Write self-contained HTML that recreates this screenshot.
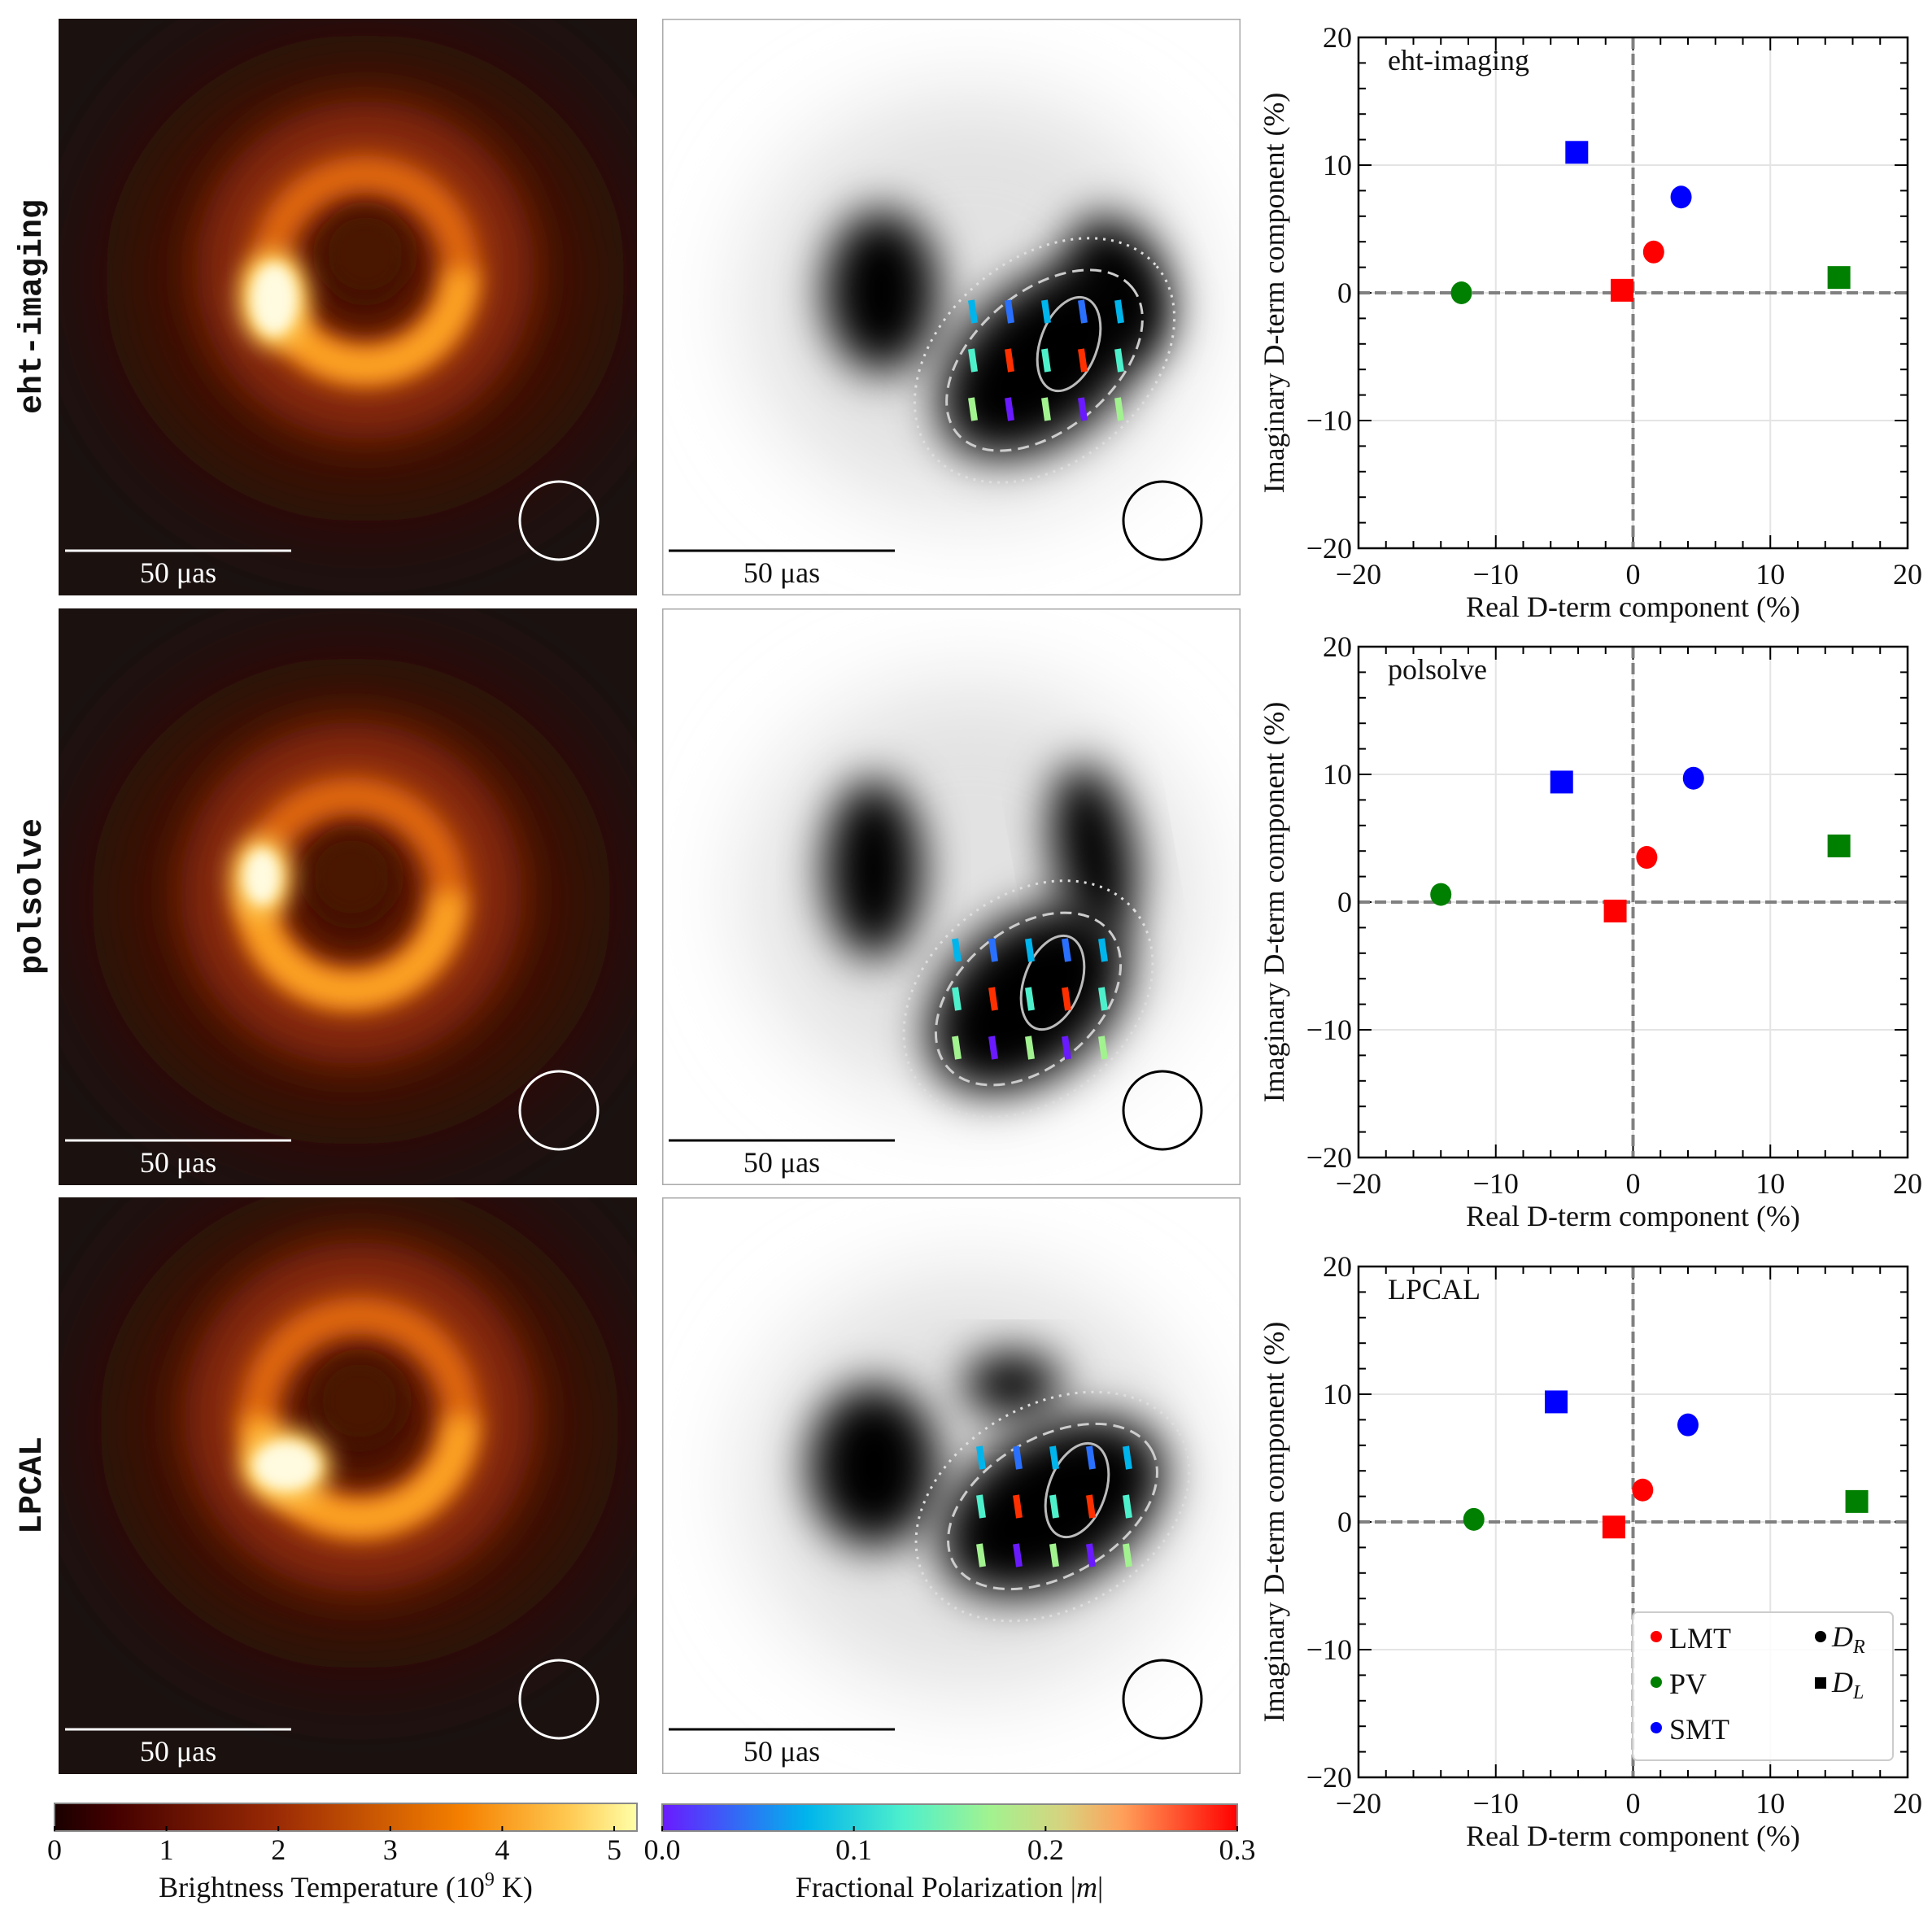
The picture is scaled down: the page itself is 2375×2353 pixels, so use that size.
<!DOCTYPE html>
<html><head><meta charset="utf-8"><style>
html,body{margin:0;padding:0;background:#fff}
svg{display:block}
text{font-family:"Liberation Serif",serif;fill:#111}
.mono{font-family:"Liberation Mono",monospace;font-weight:bold}
</style></head><body>
<svg id="fig" width="2375" height="2353" viewBox="0 0 2375 2353" xmlns="http://www.w3.org/2000/svg">
<defs>
<filter id="b60" x="-50%" y="-50%" width="200%" height="200%"><feGaussianBlur stdDeviation="55"/></filter>
<filter id="b30" x="-50%" y="-50%" width="200%" height="200%"><feGaussianBlur stdDeviation="28"/></filter>
<filter id="b15" x="-50%" y="-50%" width="200%" height="200%"><feGaussianBlur stdDeviation="14"/></filter>
<filter id="b8" x="-50%" y="-50%" width="200%" height="200%"><feGaussianBlur stdDeviation="8"/></filter>
<linearGradient id="hot" x1="0" x2="1" y1="0" y2="0">
<stop offset="0" stop-color="#1a0000"/><stop offset="0.1" stop-color="#430000"/><stop offset="0.38" stop-color="#9a2a05"/><stop offset="0.7" stop-color="#f58000"/><stop offset="0.88" stop-color="#ffc850"/><stop offset="1" stop-color="#ffffa8"/>
</linearGradient>
<linearGradient id="rbw" x1="0" x2="1" y1="0" y2="0">
<stop offset="0" stop-color="#6a1aff"/><stop offset="0.25" stop-color="#00b4ec"/><stop offset="0.42" stop-color="#4ef0cc"/><stop offset="0.57" stop-color="#a2f290"/><stop offset="0.7" stop-color="#d8d27e"/><stop offset="0.8" stop-color="#ffa05a"/><stop offset="1" stop-color="#ff0000"/>
</linearGradient>
<clipPath id="pc"><rect x="0" y="0" width="711" height="709"/></clipPath>
</defs>
<g id="panels"></g>
<g id="plots"></g>
<g id="cbars"></g>
</svg>
<script>
// ---------- D-term data ----------
const methods = ["eht-imaging","polsolve","LPCAL"];
const stations = ["LMT","PV","SMT"];
const stationColors = ["#ff0000","#008000","#0000ff"];
const drReal = [[1.5,-12.5,3.5],[1.0,-14.0,4.4],[0.7,-11.6,4.0]];
const drImag = [[3.2,0.0,7.5],[3.5,0.6,9.7],[2.5,0.2,7.6]];
const dlReal = [[-0.8,15.0,-4.1],[-1.3,15.0,-5.2],[-1.4,16.3,-5.6]];
const dlImag = [[0.2,1.2,11.0],[-0.7,4.4,9.4],[-0.4,1.6,9.4]];
const tickVals = [-20,-10,0,10,20];
const tickLabels = ["\u221220","\u221210","0","10","20"];
const hotTicks = [0,1,2,3,4,5];
const polTicks = ["0.0","0.1","0.2","0.3"];

const NS="http://www.w3.org/2000/svg";
function mk(tag,attrs,parent){const e=document.createElementNS(NS,tag);for(const k in attrs)e.setAttribute(k,attrs[k]);if(parent)parent.appendChild(e);return e;}

const rowsY=[23,748,1472];
const panels=document.getElementById('panels');

// ---------- image panels ----------
const ringParams=[
 {hx:377,hy:289,spot:[265,345,28,44],ring:118},
 {hx:360,hy:330,spot:[250,330,22,34],ring:120},
 {hx:370,hy:250,spot:[280,330,40,30],ring:125}];
rowsY.forEach((y,i)=>{
  const g=mk('g',{transform:`translate(72,${y})`,'clip-path':'url(#pc)'},panels);
  
  
  const p=ringParams[i];
  mk('rect',{x:0,y:0,width:711,height:709,fill:'#1b1210'},g);
  mk('ellipse',{cx:p.hx,cy:p.hy+30,rx:320,ry:300,fill:'#3e1006',filter:'url(#b60)'},g);
  mk('circle',{cx:p.hx,cy:p.hy+20,r:p.ring+25,fill:'none',stroke:'#8a2a08','stroke-width':130,filter:'url(#b30)'},g);
  mk('circle',{cx:p.hx,cy:p.hy+20,r:p.ring,fill:'none',stroke:'#e0680e','stroke-width':45,filter:'url(#b15)'},g);
  mk('path',{d:`M ${p.hx-p.ring} ${p.hy+20} A ${p.ring} ${p.ring} 0 0 0 ${p.hx+p.ring} ${p.hy+20}`,fill:'none',stroke:'#ffa828','stroke-width':38,filter:'url(#b15)'},g);
  mk('circle',{cx:p.hx,cy:p.hy,r:55,fill:'#4a1206',filter:'url(#b15)'},g);
  mk('ellipse',{cx:p.spot[0],cy:p.spot[1],rx:p.spot[2]+15,ry:p.spot[3]+15,fill:'#ffd060',filter:'url(#b15)'},g);
  mk('ellipse',{cx:p.spot[0],cy:p.spot[1],rx:p.spot[2],ry:p.spot[3],fill:'#fffbe0',filter:'url(#b8)'},g);
  const beam=mk('circle',{cx:615,cy:617,r:48,fill:'none',stroke:'#fff','stroke-width':3},g);
  
  mk('line',{x1:8,x2:286,y1:654,y2:654,stroke:'#fff','stroke-width':3},g);
  const t=mk('text',{x:147,y:693,'text-anchor':'middle','font-size':36,style:'fill:#fff'},g);
  t.textContent='50 \u03bcas';
  
  const lbl=mk('text',{x:0,y:0,'text-anchor':'middle','font-size':40,class:'mono',transform:`translate(50,${y+354}) rotate(-90)`},panels);
  lbl.textContent=methods[i];
  
});

// ---------- polarization panels ----------
const blobs=[
 [[270,335,70,100,0],[470,420,150,95,-40],[560,330,60,90,-20]],
 [[260,320,60,110,0],[450,480,140,95,-40],[530,300,50,110,-10]],
 [[260,330,80,100,0],[480,380,150,95,-30],[430,230,60,40,0]]];
const tickColors=["#00b4ec","#4ef0cc","#a2f290","#2a70ff","#ff3000","#6a1aff"];
rowsY.forEach((y,i)=>{
  const g=mk('g',{transform:`translate(814,${y})`,'clip-path':'url(#pc)'},panels);
  
  
  mk('rect',{x:0,y:0,width:711,height:709,fill:'#fff'},g);
  mk('ellipse',{cx:380,cy:350,rx:280,ry:260,fill:'#e2e2e2',filter:'url(#b60)'},g);
  blobs[i].forEach(b=>{
    mk('ellipse',{cx:b[0],cy:b[1],rx:b[2],ry:b[3],transform:`rotate(${b[4]} ${b[0]} ${b[1]})`,fill:'#000',filter:'url(#b30)'},g);
  });
  const main=blobs[i][1];
  mk('ellipse',{cx:main[0],cy:main[1],rx:main[2]+30,ry:main[3]+30,transform:`rotate(${main[4]} ${main[0]} ${main[1]})`,fill:'none',stroke:'#ddd','stroke-width':3,'stroke-dasharray':'3 7'},g);
  mk('ellipse',{cx:main[0],cy:main[1],rx:main[2]-10,ry:main[3]-10,transform:`rotate(${main[4]} ${main[0]} ${main[1]})`,fill:'none',stroke:'#ccc','stroke-width':3,'stroke-dasharray':'14 8'},g);
  mk('ellipse',{cx:main[0]+30,cy:main[1]-20,rx:35,ry:60,transform:`rotate(20 ${main[0]+30} ${main[1]-20})`,fill:'none',stroke:'#bbb','stroke-width':3},g);
  let k=0;
  for(let dx=-90;dx<=90;dx+=45){for(let dy=-60;dy<=60;dy+=60){
    const cx=main[0]+dx,cy=main[1]+dy;
    mk('line',{x1:cx,y1:cy-14,x2:cx+4,y2:cy+14,stroke:tickColors[k%tickColors.length],'stroke-width':8},g);k++;
  }}
  mk('rect',{x:0.5,y:0.5,width:710,height:708,fill:'none',stroke:'#aaa','stroke-width':2},g);
  mk('circle',{cx:615,cy:617,r:48,fill:'none',stroke:'#000','stroke-width':3},g);
  mk('line',{x1:8,x2:286,y1:654,y2:654,stroke:'#000','stroke-width':3},g);
  const t=mk('text',{x:147,y:693,'text-anchor':'middle','font-size':36},g);
  t.textContent='50 \u03bcas';
  
});

// ---------- D-term plots ----------
const plots=document.getElementById('plots');
const PX0=1670,PX1=2345,plotTops=[46,795,1557],PH=628;
methods.forEach((m,i)=>{
  const top=plotTops[i];
  const sx=v=>PX0+(v+20)/40*(PX1-PX0);
  const sy=v=>top+(20-v)/40*PH;
  const g=mk('g',{},plots);
  
  tickVals.forEach(v=>{
    mk('line',{x1:sx(v),x2:sx(v),y1:top,y2:top+PH,stroke:'#e4e4e4','stroke-width':2},g);
    mk('line',{x1:PX0,x2:PX1,y1:sy(v),y2:sy(v),stroke:'#e4e4e4','stroke-width':2},g);
  });
  for(let v=-20;v<=20;v+=2){
    const L=(v%10===0)?16:9;
    mk('line',{x1:sx(v),x2:sx(v),y1:top+PH,y2:top+PH-L,stroke:'#000','stroke-width':2},g);
    mk('line',{x1:sx(v),x2:sx(v),y1:top,y2:top+L,stroke:'#000','stroke-width':2},g);
    mk('line',{x1:PX0,x2:PX0+L,y1:sy(v),y2:sy(v),stroke:'#000','stroke-width':2},g);
    mk('line',{x1:PX1,x2:PX1-L,y1:sy(v),y2:sy(v),stroke:'#000','stroke-width':2},g);
  }
  mk('line',{x1:sx(0),x2:sx(0),y1:top,y2:top+PH,stroke:'#808080','stroke-width':4,'stroke-dasharray':'14 6'},g);
  mk('line',{x1:PX0,x2:PX1,y1:sy(0),y2:sy(0),stroke:'#808080','stroke-width':4,'stroke-dasharray':'14 6'},g);
  mk('rect',{x:PX0,y:top,width:PX1-PX0,height:PH,fill:'none',stroke:'#000','stroke-width':2.5},g);
  tickVals.forEach((v,j)=>{
    const tx=mk('text',{x:sx(v),y:top+PH+44,'text-anchor':'middle','font-size':36},g);tx.textContent=tickLabels[j];
    const ty=mk('text',{x:PX0-8,y:sy(v)+12,'text-anchor':'end','font-size':36},g);ty.textContent=tickLabels[j];
  });
  const xl=mk('text',{x:(PX0+PX1)/2,y:top+PH+84,'text-anchor':'middle','font-size':36},g);xl.textContent='Real D-term component (%)';
  
  const yl=mk('text',{x:0,y:0,'text-anchor':'middle','font-size':36,transform:`translate(1578,${top+PH/2}) rotate(-90)`},g);yl.textContent='Imaginary D-term component (%)';
  
  const tt=mk('text',{x:PX0+36,y:top+40,'font-size':36},g);tt.textContent=m;
  
  stations.forEach((s,k)=>{
    const c=mk('ellipse',{cx:sx(drReal[i][k]),cy:sy(drImag[i][k]),rx:13,ry:14,fill:stationColors[k]},g);
    
    const r=mk('rect',{x:sx(dlReal[i][k])-14,y:sy(dlImag[i][k])-14,width:28,height:28,fill:stationColors[k]},g);
    
  });
  if(i===2){
    const lg=mk('g',{},g);
    
    mk('rect',{x:2007,y:1982,width:320,height:182,rx:6,fill:'rgba(255,255,255,0.85)',stroke:'#ccc','stroke-width':2},lg);
    stations.forEach((s,k)=>{
      const yy=2002+k*56;
      mk('circle',{cx:2036,cy:yy+10,r:7,fill:stationColors[k]},lg);
      const t=mk('text',{x:2052,y:yy+24,'font-size':36},lg);t.textContent=s;
      
    });
    mk('circle',{cx:2238,cy:2012,r:7,fill:'#000'},lg);
    const t1=mk('text',{x:2252,y:2024,'font-size':36,'font-style':'italic'},lg);t1.innerHTML='D<tspan font-size="24" dy="8">R</tspan>';
    mk('rect',{x:2231,y:2062,width:14,height:14,fill:'#000'},lg);
    const t2=mk('text',{x:2252,y:2080,'font-size':36,'font-style':'italic'},lg);t2.innerHTML='D<tspan font-size="24" dy="8">L</tspan>';
  }
});

// ---------- colorbars ----------
const cb=document.getElementById('cbars');
const cb1=mk('rect',{x:67,y:2217,width:716,height:34,fill:'url(#hot)',stroke:'#888','stroke-width':2},cb);

hotTicks.forEach(v=>{
  const x=67+v*137.6;
  mk('line',{x1:x,x2:x,y1:2245,y2:2251,stroke:'#000','stroke-width':2},cb);
  const t=mk('text',{x:x,y:2286,'text-anchor':'middle','font-size':36},cb);t.textContent=v;
});
const l1=mk('text',{x:425,y:2332,'text-anchor':'middle','font-size':36},cb);
l1.innerHTML='Brightness Temperature (10<tspan font-size="24" dy="-14">9</tspan><tspan dy="14"> K)</tspan>';

const cb2=mk('rect',{x:814,y:2218,width:707,height:33,fill:'url(#rbw)',stroke:'#888','stroke-width':2},cb);

polTicks.forEach((v,j)=>{
  const x=814+(parseFloat(v)/0.3)*707;
  mk('line',{x1:x,x2:x,y1:2245,y2:2251,stroke:'#000','stroke-width':2},cb);
  const t=mk('text',{x:x,y:2286,'text-anchor':'middle','font-size':36},cb);t.textContent=v;
});
const l2=mk('text',{x:1167,y:2332,'text-anchor':'middle','font-size':36},cb);
l2.innerHTML='Fractional Polarization |<tspan font-style="italic">m</tspan>|';

</script>
</body></html>
